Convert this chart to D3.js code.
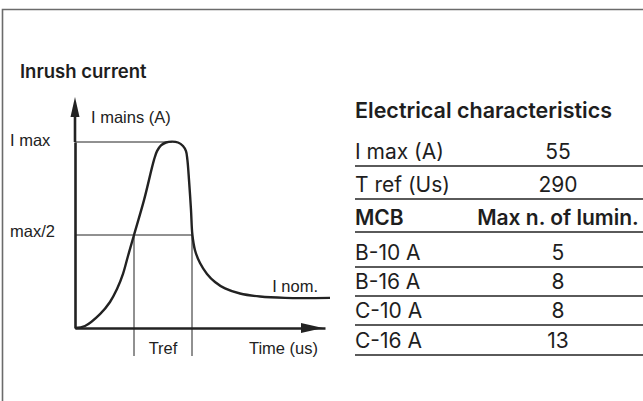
<!DOCTYPE html>
<html>
<head>
<meta charset="utf-8">
<script src="https://cdn.jsdelivr.net/npm/d3@7"></script>
<style>
  body { margin: 0; background: #fff; }
  svg { display: block; }
</style>
</head>
<body>
<div id="chart"></div>
<script>
// inrush curve, time in us, current in A (schematic)
var timeUs = [0, 50, 125, 175, 210, 240, 265, 295, 345, 395, 410, 430, 455, 485, 515, 540, 555, 562, 570, 580, 587, 600, 625, 660, 700, 750, 825, 925, 1050, 1275];
var currentA = [0, 0.6, 4.1, 7.7, 11.5, 16.0, 21.3, 27.5, 37.8, 49.7, 52.3, 54.0, 54.85, 55.1, 54.85, 53.8, 52.3, 49.7, 43.8, 34.9, 27.5, 23.0, 19.2, 16.0, 13.6, 11.7, 10.2, 9.3, 8.9, 8.9];

var iMax = 55;
var tRef = 290;
var tRefStart = 295;

// table
var charLabels = ["I max (A)", "T ref (Us)"];
var charValues = ["55", "290"];
var mcbTypes = ["B-10 A", "B-16 A", "C-10 A", "C-16 A"];
var maxLuminaires = [5, 8, 8, 13];

var svgWidth = 643;
var svgHeight = 401;

var svg = d3.select("#chart")
  .append("svg")
  .attr("width", svgWidth)
  .attr("height", svgHeight);

// frame (top + left)
svg.append("path")
  .attr("d", "M2.5,401 V9.5 H643")
  .attr("fill", "none")
  .attr("stroke", "#6b6b6b")
  .attr("stroke-width", 1.6);

svg.append("text")
  .attr("x", 20)
  .attr("y", 78)
  .attr("font-family", "Inter, sans-serif")
  .attr("font-weight", 600)
  .attr("font-size", 18.5)
  .attr("fill", "#1e1e1e")
  .text("Inrush current");

// scales
var xScale = d3.scaleLinear().domain([0, 1250]).range([75, 325]);
var yScale = d3.scaleLinear().domain([0, iMax]).range([328, 142]);

var ink = "#222";
var labelFont = "'Liberation Sans', Arial, sans-serif";

// guide lines
var g = svg.append("g");
var tEnd = tRefStart + tRef;

g.append("line")
  .attr("x1", xScale(0)).attr("x2", xScale(485))
  .attr("y1", yScale(iMax)).attr("y2", yScale(iMax))
  .attr("stroke", ink).attr("stroke-width", 1);

g.append("line")
  .attr("x1", xScale(0)).attr("x2", xScale(tEnd))
  .attr("y1", yScale(iMax / 2)).attr("y2", yScale(iMax / 2))
  .attr("stroke", ink).attr("stroke-width", 1);

[tRefStart, tEnd].forEach(function(t) {
  g.append("line")
    .attr("x1", xScale(t)).attr("x2", xScale(t))
    .attr("y1", yScale(iMax / 2)).attr("y2", 356)
    .attr("stroke", ink).attr("stroke-width", 1);
});

// axes
var bottomAxis = d3.axisBottom(xScale).tickValues([]).tickSizeOuter(0);
var leftAxis = d3.axisLeft(yScale).tickValues([]).tickSizeOuter(0);

var xAxisG = g.append("g")
  .attr("transform", "translate(0," + yScale(0) + ")")
  .call(bottomAxis);
var yAxisG = g.append("g")
  .attr("transform", "translate(" + xScale(0) + ",0)")
  .call(leftAxis);

[xAxisG, yAxisG].forEach(function(a) {
  a.select(".domain").attr("stroke", ink).attr("stroke-width", 2.6);
});
// extend y axis up to arrow
yAxisG.append("line")
  .attr("x1", 0).attr("x2", 0)
  .attr("y1", yScale(iMax)).attr("y2", 110)
  .attr("stroke", ink).attr("stroke-width", 2.6);

// arrow heads
g.append("path")
  .attr("d", "M" + xScale(0) + ",97 L" + (xScale(0) - 4.5) + ",117 L" + (xScale(0) + 4.5) + ",117 Z")
  .attr("fill", ink);
g.append("path")
  .attr("d", "M323," + yScale(0) + " L301," + (yScale(0) - 5) + " L301," + (yScale(0) + 5) + " Z")
  .attr("fill", ink);

// curve
var line = d3.line()
  .x(function(d, i) { return xScale(timeUs[i]); })
  .y(function(d) { return yScale(d); })
  .curve(d3.curveCatmullRom.alpha(0.5));

g.append("path")
  .datum(currentA)
  .attr("d", line)
  .attr("fill", "none")
  .attr("stroke", ink)
  .attr("stroke-width", 2.4);

// labels
function label(x, y, txt, anchor) {
  g.append("text")
    .attr("x", x).attr("y", y)
    .attr("text-anchor", anchor || "start")
    .attr("font-family", labelFont)
    .attr("font-size", 16.5)
    .attr("fill", "#222")
    .text(txt);
}
label(91, 123, "I mains (A)");
label(10, 146, "I max");
label(10, 237, "max/2");
label(318, 292, "I nom.", "end");
label(xScale(tRefStart + tRef / 2), 354, "Tref", "middle");
label(318, 354, "Time (us)", "end");

// table
var tableFont = "Inter, sans-serif";
var tX = 355;
var valX = 558;
var rowLines = [166, 199, 232, 267, 296, 325, 355];

svg.append("text")
  .attr("x", tX).attr("y", 118)
  .attr("font-family", tableFont)
  .attr("font-weight", 600)
  .attr("font-size", 21.5)
  .attr("fill", "#1e1e1e")
  .text("Electrical characteristics");

var rows = [];
charLabels.forEach(function(l, i) { rows.push({ a: l, b: charValues[i], bold: false }); });
rows.push({ a: "MCB", b: "Max n. of lumin.", bold: true });
mcbTypes.forEach(function(m, i) { rows.push({ a: m, b: String(maxLuminaires[i]), bold: false }); });

var rowG = svg.selectAll("g.row")
  .data(rows)
  .enter()
  .append("g")
  .attr("class", "row");

rowG.append("line")
  .attr("x1", tX).attr("x2", svgWidth)
  .attr("y1", function(d, i) { return rowLines[i]; })
  .attr("y2", function(d, i) { return rowLines[i]; })
  .attr("stroke", "#5a5a5a")
  .attr("stroke-width", 2);

rowG.append("text")
  .attr("x", tX)
  .attr("y", function(d, i) { return rowLines[i] - 7; })
  .attr("font-family", tableFont)
  .attr("font-size", 21)
  .attr("font-weight", function(d) { return d.bold ? 600 : 400; })
  .attr("fill", "#1e1e1e")
  .text(function(d) { return d.a; });

rowG.append("text")
  .attr("x", valX)
  .attr("y", function(d, i) { return rowLines[i] - 7; })
  .attr("text-anchor", "middle")
  .attr("font-family", tableFont)
  .attr("font-size", 21)
  .attr("font-weight", function(d) { return d.bold ? 600 : 400; })
  .attr("fill", "#1e1e1e")
  .text(function(d) { return d.b; });
</script>
</body>
</html>
